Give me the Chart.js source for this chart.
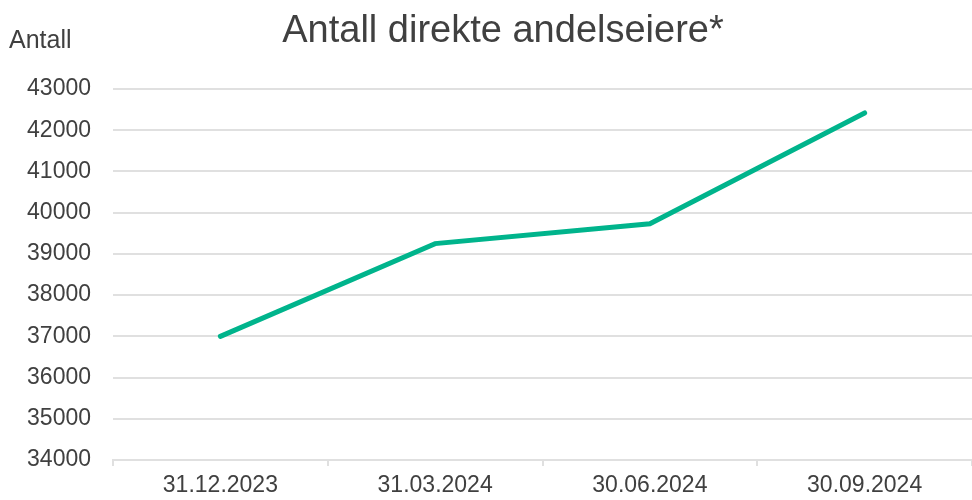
<!DOCTYPE html>
<html>
<head>
<meta charset="utf-8">
<script src="https://cdn.jsdelivr.net/npm/chart.js@4/dist/chart.umd.min.js"></script>
<style>
html,body{margin:0;padding:0;background:#fff}
#wrap{width:972px;height:500px;position:relative}
</style>
</head>
<body>
<div id="wrap"><canvas id="c"></canvas></div>
<script>
const labels = ['31.12.2023','31.03.2024','30.06.2024','30.09.2024']
const antall = [37000, 39250, 39730, 42420]
const yMin = 34000, yMax = 43000, yStep = 1000
const titleText = 'Antall direkte andelseiere*'
const yLabel = 'Antall'

const FONT = '"Liberation Sans", Arial, sans-serif'
const TXT = '#404040'
const GRID = '#e0e0e0'

// title and the little "Antall" label sit outside the chart area
const textPlugin = {
  id:'textPlugin',
  afterDraw(chart){
    const ctx = chart.ctx
    ctx.save()
    ctx.fillStyle = TXT
    ctx.textBaseline = 'alphabetic'
    ctx.font = '38px ' + FONT
    ctx.textAlign = 'center'
    ctx.fillText(titleText, 503, 42)
    ctx.font = '25px ' + FONT
    ctx.textAlign = 'left'
    ctx.fillText(yLabel, 9, 48)
    ctx.restore()
  }
}

new Chart(document.getElementById('c'), {
  type:'line',
  data:{
    labels,
    datasets:[{
      label:yLabel,
      data:antall,
      borderColor:'#00b48c',
      backgroundColor:'#00b48c',
      borderWidth:5,
      borderCapStyle:'round',
      borderJoinStyle:'miter',
      pointRadius:0,
      tension:0
    }]
  },
  options:{
    responsive:true,
    maintainAspectRatio:false,
    animation:false,
    layout:{padding:{top:89, right:0, left:0, bottom:0}},
    plugins:{legend:{display:false}, title:{display:false}, tooltip:{enabled:false}},
    scales:{
      x:{
        offset:true,
        afterFit(scale){ scale.height = 40 },
        grid:{offset:true, drawOnChartArea:false, drawTicks:true, tickLength:6, color:GRID, lineWidth:2},
        border:{display:true, color:GRID, width:2},
        ticks:{color:TXT, font:{family:FONT, size:23}, padding:6, maxRotation:0, autoSkip:false}
      },
      y:{
        min:yMin, max:yMax,
        afterFit(scale){ scale.width = 113 },
        grid:{drawTicks:false, color:GRID, lineWidth:2},
        border:{display:false},
        ticks:{stepSize:yStep, color:TXT, font:{family:FONT, size:23}, padding:22,
          callback:v=>String(v)}
      }
    }
  },
  plugins:[textPlugin]
})
</script>
</body>
</html>
